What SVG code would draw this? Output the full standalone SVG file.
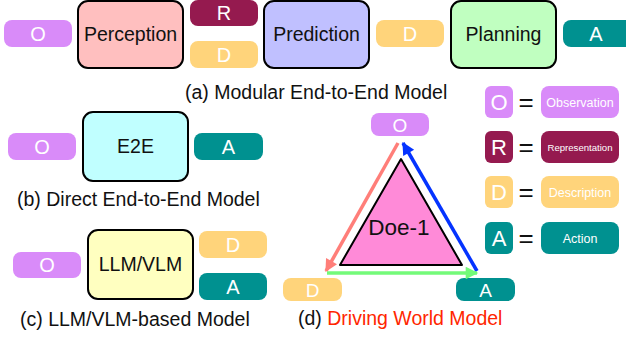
<svg xmlns="http://www.w3.org/2000/svg" width="626" height="337" viewBox="0 0 626 337">
<style>
text{font-family:"Liberation Sans",Arial,sans-serif;}
.box{stroke:#000;stroke-width:2;}
.bt{font-size:19.5px;fill:#111;text-anchor:middle;}
.pl{font-size:20px;fill:#fff;text-anchor:middle;}
.ps{font-size:19px;fill:#fff;text-anchor:middle;}
.cap{font-size:19.5px;fill:#111;}
.O{fill:#D98BF9;}
.R{fill:#951A4F;}
.D{fill:#FFD47B;}
.A{fill:#009190;}
.lg{font-size:12.5px;fill:#fff;text-anchor:middle;}
.lt{font-size:22px;fill:#fff;text-anchor:middle;}
.eq{font-size:26px;fill:#111;text-anchor:middle;}
</style>
<defs>
<marker id="hs" viewBox="0 0 10 10" refX="9" refY="5" markerWidth="4.5" markerHeight="3.6" orient="auto" markerUnits="strokeWidth"><path d="M0,0L10,5L0,10z" fill="#FF7E79"/></marker>
<marker id="hb" viewBox="0 0 10 10" refX="9" refY="5" markerWidth="4.5" markerHeight="3.6" orient="auto" markerUnits="strokeWidth"><path d="M0,0L10,5L0,10z" fill="#0433FF"/></marker>
<marker id="hg" viewBox="0 0 10 10" refX="9" refY="5" markerWidth="4.5" markerHeight="3.6" orient="auto" markerUnits="strokeWidth"><path d="M0,0L10,5L0,10z" fill="#73FA79"/></marker>
</defs>

<!-- (a) Modular -->
<g id="a-O"><rect class="O" x="4" y="20" width="68" height="27" rx="8"/><text class="pl" x="38" y="41">O</text></g>
<g id="a-perception"><rect class="box" x="78" y="1" width="105" height="67" rx="10" fill="#FFBFBF"/><text class="bt" x="130.5" y="41">Perception</text></g>
<g id="a-R"><rect class="R" x="190" y="0" width="68" height="26" rx="8"/><text class="pl" x="224" y="20">R</text></g>
<g id="a-D1"><rect class="D" x="190" y="41" width="68" height="27" rx="8"/><text class="pl" x="224" y="62">D</text></g>
<g id="a-prediction"><rect class="box" x="264" y="1" width="105" height="67" rx="10" fill="#C0C0FF"/><text class="bt" x="316.5" y="41">Prediction</text></g>
<g id="a-D2"><rect class="D" x="376" y="20" width="68" height="27" rx="8"/><text class="pl" x="410" y="41">D</text></g>
<g id="a-planning"><rect class="box" x="451" y="1" width="105" height="67" rx="10" fill="#C0FFC0"/><text class="bt" x="503.5" y="41">Planning</text></g>
<g id="a-A"><rect class="A" x="563" y="20" width="72" height="27" rx="8"/><text class="pl" x="596" y="41">A</text></g>
<text class="cap" x="185" y="99">(a) Modular End-to-End Model</text>

<!-- (b) Direct -->
<g id="b-O"><rect class="O" x="8" y="133" width="68" height="27" rx="8"/><text class="pl" x="42" y="154">O</text></g>
<g id="b-e2e"><rect class="box" x="83" y="112" width="105" height="69" rx="10" fill="#C0FFFF"/><text class="bt" x="135.5" y="153">E2E</text></g>
<g id="b-A"><rect class="A" x="194" y="133" width="69" height="27" rx="8"/><text class="pl" x="228.5" y="154">A</text></g>
<text class="cap" x="17" y="206">(b) Direct End-to-End Model</text>

<!-- (c) LLM/VLM -->
<g id="c-O"><rect class="O" x="13" y="252" width="68" height="26" rx="8"/><text class="pl" x="47" y="272">O</text></g>
<g id="c-llm"><rect class="box" x="88" y="230" width="105" height="69" rx="10" fill="#FFFFC0"/><text class="bt" x="140.5" y="271">LLM/VLM</text></g>
<g id="c-D"><rect class="D" x="199" y="231" width="68" height="27" rx="8"/><text class="pl" x="233" y="252">D</text></g>
<g id="c-A"><rect class="A" x="199" y="273" width="68" height="27" rx="8"/><text class="pl" x="233" y="294">A</text></g>
<text class="cap" x="20" y="326">(c) LLM/VLM-based Model</text>

<!-- (d) Driving World Model -->
<g id="d-doe1"><path class="box" d="M401,159L462,265L340,265Z" fill="#FF8AD8" stroke-linejoin="round"/><text x="399" y="235" font-size="22.5px" fill="#111" text-anchor="middle">Doe-1</text></g>
<g id="d-O"><rect class="O" x="371" y="113" width="58" height="23" rx="8"/><text class="ps" x="400" y="131.5">O</text></g>
<g id="d-D"><rect class="D" x="283" y="278" width="59" height="23" rx="8"/><text class="ps" x="312.5" y="296.5">D</text></g>
<g id="d-A"><rect class="A" x="456" y="278" width="59" height="23" rx="8"/><text class="ps" x="485.5" y="296.5">A</text></g>
<g id="connectors" fill="none" stroke-width="3.5">
<line x1="398" y1="143" x2="326" y2="271" stroke="#FF7E79" marker-end="url(#hs)"/>
<line x1="477" y1="271" x2="403" y2="143" stroke="#0433FF" marker-end="url(#hb)"/>
<line x1="327" y1="273" x2="477" y2="273" stroke="#73FA79" marker-end="url(#hg)"/>
</g>
<text class="cap" x="298" y="325">(d) <tspan fill="#FF2600">Driving World Model</tspan></text>

<!-- legend -->
<g id="legend-O"><rect class="O" x="485" y="86" width="28" height="32" rx="6"/><text class="lt" x="499" y="110">O</text><text class="eq" x="526" y="111">=</text><rect class="O" x="541" y="86" width="78" height="32" rx="8"/><text class="lg" x="580" y="106.5">Observation</text></g>
<g id="legend-R"><rect class="R" x="485" y="131" width="28" height="32" rx="6"/><text class="lt" x="499" y="155">R</text><text class="eq" x="526" y="156">=</text><rect class="R" x="541" y="131" width="78" height="32" rx="8"/><text x="580" y="150.5" font-size="9.6px" fill="#fff" text-anchor="middle">Representation</text></g>
<g id="legend-D"><rect class="D" x="485" y="176" width="28" height="32" rx="6"/><text class="lt" x="499" y="200">D</text><text class="eq" x="526" y="201">=</text><rect class="D" x="541" y="176" width="78" height="32" rx="8"/><text class="lg" x="580" y="196.5">Description</text></g>
<g id="legend-A"><rect class="A" x="485" y="222" width="28" height="32" rx="6"/><text class="lt" x="499" y="246">A</text><text class="eq" x="526" y="247">=</text><rect class="A" x="541" y="222" width="78" height="32" rx="8"/><text class="lg" x="580" y="242.5">Action</text></g>
</svg>
